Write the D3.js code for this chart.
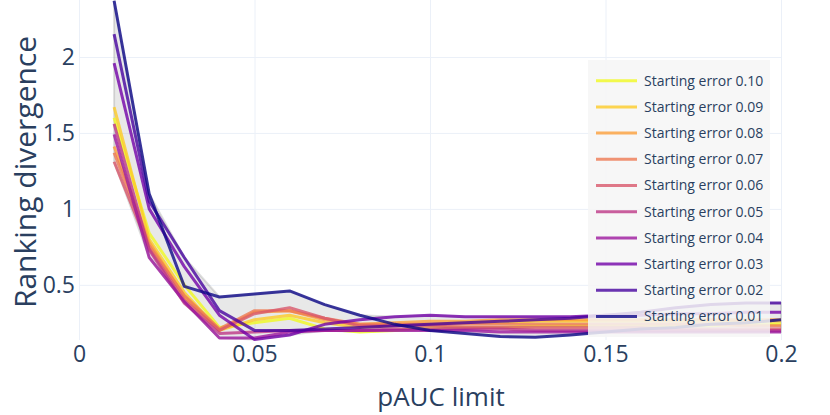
<!DOCTYPE html>
<html lang="en">
<head>
  <meta charset="UTF-8">
  <title>Ranking divergence vs pAUC limit</title>
  <style>
      body { margin: 0; background: #fff; }
      svg, svg text { font-family: "Open Sans", sans-serif; }
      .grid line { stroke: #ebf0f8; stroke-width: 1px; }
      .grid path { stroke-width: 0; }
      .axis path, .axis line { display: none; }
      .axis text { fill: #2a3f5f; font-size: 23px; font-family: "Open Sans", sans-serif; }
      .line { fill: none; stroke-width: 3px; stroke-opacity: 0.8; stroke-linejoin: round; }
  </style>
</head>
<body>
<div id="chart"></div>
<script src="https://d3js.org/d3.v7.min.js"></script>
<script>
  // pAUC limits
  const pAUC = [0.01, 0.02, 0.03, 0.04, 0.05, 0.06, 0.07, 0.08, 0.09, 0.10,
                0.11, 0.12, 0.13, 0.14, 0.15, 0.16, 0.17, 0.18, 0.19, 0.20];

  const startErrors = ["0.10", "0.09", "0.08", "0.07", "0.06", "0.05", "0.04", "0.03", "0.02", "0.01"];
  const seriesColors = ["#f0f921", "#fdca26", "#fb9f3a", "#ed7953", "#d8576b",
                        "#bd3786", "#9c179e", "#7201a8", "#46039f", "#0d0887"];

  const err010 = [1.60, 0.84, 0.50, 0.22, 0.25, 0.28, 0.21, 0.19, 0.20, 0.22, 0.22, 0.22, 0.23, 0.23, 0.23, 0.23, 0.23, 0.23, 0.24, 0.24];
  const err009 = [1.67, 0.80, 0.45, 0.20, 0.27, 0.30, 0.25, 0.22, 0.23, 0.24, 0.25, 0.25, 0.26, 0.26, 0.26, 0.26, 0.26, 0.26, 0.26, 0.26];
  const err008 = [1.41, 0.78, 0.42, 0.20, 0.32, 0.33, 0.27, 0.24, 0.25, 0.26, 0.26, 0.27, 0.27, 0.27, 0.27, 0.27, 0.27, 0.27, 0.27, 0.27];
  const err007 = [1.37, 0.76, 0.43, 0.21, 0.33, 0.33, 0.28, 0.24, 0.24, 0.24, 0.24, 0.24, 0.24, 0.24, 0.24, 0.24, 0.24, 0.24, 0.23, 0.23];
  const err006 = [1.31, 0.74, 0.40, 0.20, 0.31, 0.35, 0.28, 0.23, 0.23, 0.23, 0.22, 0.22, 0.22, 0.22, 0.22, 0.22, 0.21, 0.21, 0.21, 0.21];
  const err005 = [1.56, 0.73, 0.38, 0.18, 0.19, 0.20, 0.20, 0.20, 0.21, 0.21, 0.21, 0.21, 0.20, 0.20, 0.20, 0.20, 0.20, 0.20, 0.20, 0.20];
  const err004 = [1.49, 0.68, 0.39, 0.15, 0.15, 0.19, 0.20, 0.20, 0.20, 0.20, 0.20, 0.19, 0.19, 0.19, 0.19, 0.19, 0.19, 0.19, 0.19, 0.19];
  const err003 = [1.96, 1.00, 0.62, 0.30, 0.14, 0.17, 0.24, 0.27, 0.29, 0.30, 0.29, 0.29, 0.29, 0.29, 0.30, 0.30, 0.31, 0.31, 0.32, 0.32];
  const err002 = [2.15, 1.05, 0.68, 0.33, 0.20, 0.20, 0.21, 0.22, 0.23, 0.24, 0.25, 0.26, 0.27, 0.28, 0.30, 0.32, 0.35, 0.37, 0.38, 0.38];
  const err001 = [2.37, 1.10, 0.49, 0.42, 0.44, 0.46, 0.37, 0.30, 0.24, 0.20, 0.18, 0.16, 0.155, 0.17, 0.19, 0.21, 0.22, 0.24, 0.25, 0.27];

  const xTicks = [0, 0.05, 0.1, 0.15, 0.2];
  const yTicks = [0.5, 1, 1.5, 2];

  const allSeries = [err010, err009, err008, err007, err006, err005, err004, err003, err002, err001];

  const W = 830, H = 415;
  const margin = {top: 0, right: 49, bottom: 75, left: 79},
    width = W - margin.left - margin.right,
    height = H - margin.top - margin.bottom;

  const svg = d3.select("#chart").append("svg")
    .attr("width", W)
    .attr("height", H);

  const g = svg.append("g")
    .attr("transform", `translate(${margin.left},${margin.top})`);

  const x = d3.scaleLinear().domain([0, 0.2]).range([0, width]);
  const allVals = allSeries.flat();
  const y = d3.scaleLinear()
    .domain([d3.min(allVals) - 0.003, d3.max(allVals) + 0.005])
    .range([height, 0]);

  // grid
  g.append("g")
    .attr("class", "grid")
    .attr("transform", `translate(0,${height})`)
    .call(d3.axisBottom(x).tickValues(xTicks).tickSize(-height).tickFormat(""));
  g.append("g")
    .attr("class", "grid")
    .call(d3.axisLeft(y).tickValues(yTicks).tickSize(-width).tickFormat(""));

  // envelope band
  const band = pAUC.map((p, i) => ({
    p: p,
    lo: d3.min(allSeries, s => s[i]),
    hi: d3.max(allSeries, s => s[i])
  }));
  g.append("path")
    .datum(band)
    .attr("fill", "rgba(128,128,128,0.18)")
    .attr("stroke", "rgba(128,128,128,0.25)")
    .attr("stroke-width", 2)
    .attr("d", d3.area().x(d => x(d.p)).y0(d => y(d.lo)).y1(d => y(d.hi)));

  // lines
  const line = d3.line()
    .x((d, i) => x(pAUC[i]))
    .y(d => y(d));

  allSeries.forEach((s, k) => {
    g.append("path")
      .datum(s)
      .attr("class", "line")
      .attr("stroke", seriesColors[k])
      .attr("d", line);
  });

  // axes
  g.append("g")
    .attr("class", "axis")
    .attr("transform", `translate(0,${height})`)
    .call(d3.axisBottom(x).tickValues(xTicks).tickSize(0).tickPadding(6)
      .tickFormat(d => String(+d.toFixed(2))));
  g.append("g")
    .attr("class", "axis")
    .call(d3.axisLeft(y).tickValues(yTicks).tickSize(0).tickPadding(4)
      .tickFormat(d => String(d)));

  // axis titles
  svg.append("text")
    .attr("x", 441)
    .attr("y", 406)
    .attr("text-anchor", "middle")
    .style("font-size", "26px")
    .style("fill", "#2a3f5f")
    .text("pAUC limit");

  svg.append("text")
    .attr("transform", `translate(36,${margin.top + height / 2 + 2}) rotate(-90)`)
    .attr("text-anchor", "middle")
    .style("font-size", "30px")
    .style("fill", "#2a3f5f")
    .text("Ranking divergence");

  // legend
  const legend = svg.append("g").attr("transform", "translate(588,60)");
  legend.append("rect")
    .attr("width", 182)
    .attr("height", 277)
    .attr("fill", "rgba(246,246,246,0.85)");

  startErrors.forEach((lab, k) => {
    const ly = 20.7 + k * 26.2;
    legend.append("line")
      .attr("x1", 8).attr("x2", 49)
      .attr("y1", ly).attr("y2", ly)
      .attr("stroke", seriesColors[k])
      .attr("stroke-opacity", 0.8)
      .attr("stroke-width", 3);
    legend.append("text")
      .attr("x", 56)
      .attr("y", ly)
      .attr("dy", "0.35em")
      .style("font-size", "14px")
      .style("fill", "#2a3f5f")
      .text("Starting error " + lab);
  });
</script>
</body>
</html>
